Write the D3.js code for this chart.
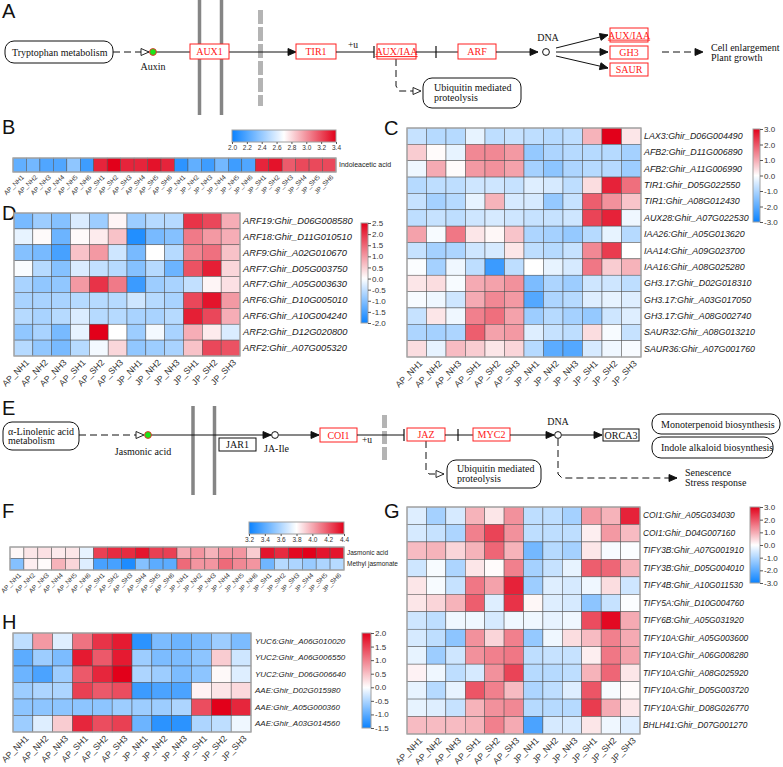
<!DOCTYPE html>
<html><head><meta charset="utf-8">
<script src="https://cdn.jsdelivr.net/npm/d3@7"></script>
<style>body{margin:0;background:#fff}svg{display:block}</style>
</head><body>
<svg id="fig" width="783" height="767"></svg>
<script>
// ---------------- DATA ----------------
const samples24 = ["AP_NH1","AP_NH2","AP_NH3","AP_NH4","AP_NH5","AP_NH6","AP_SH1","AP_SH2","AP_SH3","AP_SH4","AP_SH5","AP_SH6",
                   "JP_NH1","JP_NH2","JP_NH3","JP_NH4","JP_NH5","JP_NH6","JP_SH1","JP_SH2","JP_SH3","JP_SH4","JP_SH5","JP_SH6"];
const samples12 = ["AP_NH1","AP_NH2","AP_NH3","AP_SH1","AP_SH2","AP_SH3","JP_NH1","JP_NH2","JP_NH3","JP_SH1","JP_SH2","JP_SH3"];

// B: Indoleacetic acid
const iaaRows = ["Indoleacetic acid"];
const iaaValues = [[2.25,2.3,2.2,2.2,2.38,2.15, 3.3,3.4,3.3,3.3,3.35,3.3, 2.1,2.25,2.15,2.3,2.15,2.2, 3.3,3.35,3.15,3.2,3.2,3.2]];
const iaaTicks = [2.0,2.2,2.4,2.6,2.8,3.0,3.2,3.4];

// C: auxin signalling genes
const cGenes = ["LAX3:Ghir_D06G004490","AFB2:Ghir_D11G006890","AFB2:Ghir_A11G006990","TIR1:Ghir_D05G022550","TIR1:Ghir_A08G012430",
  "AUX28:Ghir_A07G022530","IAA26:Ghir_A05G013620","IAA14:Ghir_A09G023700","IAA16:Ghir_A08G025280","GH3.17:Ghir_D02G018310",
  "GH3.17:Ghir_A03G017050","GH3.17:Ghir_A08G002740","SAUR32:Ghir_A08G013210","SAUR36:Ghir_A07G001760"];
const cValues = [
  [-0.7,-0.9,-0.9,-0.3,-0.8,-0.7,-0.8,-0.9,-0.8, 0.9, 3.0, 0.3],
  [ 0.6, 0.05,-0.3, 1.4, 1.4, 1.2,-1.3,-1.0,-0.9,-0.9,-0.9,-1.1],
  [-0.2, 1.0, 0.05, 1.2, 1.3, 1.1,-1.1,-1.4,-1.0,-0.9,-0.9,-1.2],
  [-0.9,-0.8,-0.8,-0.6,-0.6,-0.7,-0.4,-0.5,-0.8, 0.4, 2.6, 1.7],
  [-0.7,-1.1,-0.9,-0.3, 0.9,-0.5,-0.5,-1.3,-0.7, 1.9, 1.3, 0.7],
  [-0.8,-0.7,-0.8,-0.6,-0.5,-0.6,-0.7,-0.7,-0.6, 2.2, 2.6,-0.2],
  [ 1.1,-0.1, 1.6, 0.3, 0.1, 0.7,-1.0,-1.1,-1.3,-0.9,-0.3,-0.9],
  [-0.7,-1.1,-1.0,-0.6,-0.5, 0.3,-0.8,-0.9,-0.7, 1.4, 2.3, 0.0],
  [-0.05,-1.1,-0.2,-0.8,-2.4,-0.8, 0.0,-0.3,-0.5, 1.6, 0.6, 0.9],
  [ 0.3, 0.4,-0.1, 1.0, 1.1, 1.3,-1.6,-1.0,-1.2,-0.6,-0.6,-0.8],
  [-0.1,-0.2,-0.6, 1.0, 1.4, 1.2,-2.1,-1.0,-0.9,-0.4,-0.3,-0.4],
  [-0.7, 0.3,-0.2, 1.5, 1.7, 1.1,-1.2,-0.9,-1.1,-1.3,-0.6,-0.4],
  [-1.0,-1.1,-1.0, 1.9, 1.1, 1.2,-0.4,-0.7,-0.8, 0.4,-0.1,-0.7],
  [ 0.4,-0.3, 0.8, 0.6, 0.3, 0.5,-0.9,-2.0,-2.1,-0.5,-0.2,-0.1]];
const cTicks = [-3,-2,-1,0,1,2,3];

// D: ARF genes
const dGenes = ["ARF19:Ghir_D06G008580","ARF18:Ghir_D11G010510","ARF9:Ghir_A02G010670","ARF7:Ghir_D05G003750","ARF7:Ghir_A05G003630",
  "ARF6:Ghir_D10G005010","ARF6:Ghir_A10G004240","ARF2:Ghir_D12G020800","ARF2:Ghir_A07G005320"];
const dValues = [
  [-1.1,-0.8,-1.0,-0.3,-0.8, 0.1,-0.8,-0.6,-0.6, 2.0, 1.8, 0.8],
  [-0.2, 0.05,-1.2, 0.05, 0.2, 0.6,-1.8,-1.1,-1.0, 1.3, 1.0, 0.8],
  [-1.0,-1.1,-1.5, 0.6, 1.0,-0.4,-1.1, 0.0,-0.6, 1.2, 1.4, 0.6],
  [-0.05,-0.6,-1.0,-0.3,-0.5,-0.6,-1.0,-0.6,-1.2, 1.7, 2.2, 0.4],
  [-0.7,-0.9,-0.9, 1.0, 2.0, 1.3,-1.6,-0.8,-0.7,-0.5, 0.1, 0.3],
  [-0.7,-0.7,-0.7,-0.6,-0.6,-0.6,-0.4,-0.6,-0.7, 1.8, 2.3, 1.0],
  [-0.6,-0.7,-0.6,-0.3,-0.6,-0.6,-0.7,-0.7,-0.6, 2.2, 1.8, 0.8],
  [-0.9,-0.7,-1.1,-0.2, 2.5, 0.0,-0.8,-0.1,-0.7, 0.8, 0.2,-0.3],
  [-0.6,-0.9,-1.1,-0.6,-0.1, 0.4,-0.9,-0.8,-0.7, 0.6, 1.8, 1.7]];
const dTicks = [-2,-1.5,-1,-0.5,0,0.5,1,1.5,2,2.5];

// F: jasmonates
const jaRows = ["Jasmonic acid","Methyl jasmonate"];
const jaValues = [
  [3.82,3.86,3.87,3.85,3.86,3.74, 4.25,4.3,4.3,4.35,4.25,4.25, 4.0,4.05,3.98,4.05,4.05,3.92, 4.35,4.3,4.38,4.4,4.35,4.35],
  [3.5,3.84,3.81,3.98,3.9,3.72, 3.35,3.35,3.25,3.5,3.4,3.4, 4.15,4.05,4.05,4.15,4.08,4.05, 3.45,3.62,3.6,3.55,3.6,3.62]];
const jaTicks = [3.2,3.4,3.6,3.8,4.0,4.2,4.4];

// G: JA signalling genes
const gGenes = ["COI1:Ghir_A05G034030","COI1:Ghir_D04G007160","TIFY3B:Ghir_A07G001910","TIFY3B:Ghir_D05G004010","TIFY4B:Ghir_A10G011530",
  "TIFY5A:Ghir_D10G004760","TIFY6B:Ghir_A05G031920","TIFY10A:Ghir_A05G003600","TIFY10A:Ghir_A06G008280","TIFY10A:Ghir_A08G025920",
  "TIFY10A:Ghir_D05G003720","TIFY10A:Ghir_D08G026770","BHLH41:Ghir_D07G001270"];
const gValues = [
  [-0.4,-1.1,-0.5, 0.9, 0.3, 1.3,-0.8,-0.8,-1.1, 1.2, 0.9, 2.6],
  [-0.5,-0.7,-1.0, 1.5, 2.2, 1.3,-0.8,-0.8,-0.8, 0.2, 1.2, 0.8],
  [ 0.8, 0.9, 0.5, 0.9, 1.8, 0.9,-1.7,-0.9,-1.1, 0.3,-0.1,-0.05],
  [-0.6,-0.1,-1.0, 0.3, 0.05, 1.5,-1.1,-0.7,-0.3, 1.9, 1.8, 0.9],
  [ 0.3,-0.1,-0.7, 1.6, 1.1, 2.6,-1.2,-0.4,-0.5,-0.2, 0.4,-0.6],
  [ 0.3, 0.5, 0.9, 1.9,-0.4, 2.4, 0.1,-0.4,-0.5,-1.4,-0.7,-0.05],
  [-0.6,-0.8,-0.2,-0.2,-0.5,-0.2,-0.2,-0.3,-0.2, 2.1, 2.9, 1.0],
  [-0.5,-0.8,-1.4, 1.3, 0.5, 1.5,-1.3,-0.2, 0.4, 0.8, 1.5, 1.0],
  [-0.3,-1.2,-0.6, 1.3, 1.5, 1.6,-0.8,-0.7,-0.7, 0.2, 1.6, 1.1],
  [ 0.15,-0.2,-0.8,-0.5, 1.3, 2.2,-0.9,-0.9,-0.8, 0.9, 1.8, 0.3],
  [-0.3,-0.9,-0.3, 2.0, 1.5, 0.8,-1.0,-0.8,-0.4, 2.0,-0.1, 0.05],
  [-0.3,-0.4,-0.7, 0.9, 1.3, 1.4,-0.9,-0.9,-0.9, 2.3, 1.0, 0.3],
  [ 0.8, 0.8, 0.8, 0.9, 1.5, 1.0,-2.2,-0.5,-0.5, 0.3,-0.2,-0.4]];
const gTicks = [-3,-2,-1,0,1,2,3];

// H: auxin biosynthesis genes
const hGenes = ["YUC6:Ghir_A06G010020","YUC2:Ghir_A06G006550","YUC2:Ghir_D06G006640","AAE:Ghir_D02G015980","AAE:Ghir_A05G000360","AAE:Ghir_A03G014560"];
const hValues = [
  [-0.4, 0.8,-0.2, 1.1, 1.6, 1.8,-1.3,-0.8,-0.9,-0.8,-0.6,-0.8],
  [-1.0,-0.6,-0.8, 1.8, 1.3, 1.8,-0.6,-0.8,-0.8,-0.7, 0.4,-0.3],
  [-0.9,-1.1,-0.6, 1.3, 1.7, 2.0,-0.5,-0.6,-0.8,-0.7, 0.05,-0.2],
  [-0.6,-0.5,-0.5, 1.5, 1.3, 1.4,-1.2,-1.1,-1.1, 0.1, 0.2, 0.3],
  [-0.7,-0.7,-0.7,-0.7,-0.7,-0.6,-0.6,-0.6,-0.5, 1.4, 2.0, 1.7],
  [-0.6,-0.2, 0.4, 1.7, 1.4, 1.5,-0.9,-1.3,-1.3,-0.5,-0.4,-0.1]];
const hTicks = [-1.5,-1,-0.5,0,0.5,1,1.5,2];

// ---------------- DRAWING ----------------
const svg = d3.select("#fig");
svg.append("rect").attr("width",783).attr("height",767).attr("fill","#fff");
const defs = svg.append("defs");
const BLUE = "#0a82ff", RED = "#e2001a";
const SANS = "'Liberation Sans', Arial, sans-serif";
const SERIF = "'Liberation Serif', 'Times New Roman', serif";
let gid = 0;

function colorbar(g, c, dom, cb) {
  const id = "grad" + (gid++);
  const lg = defs.append("linearGradient").attr("id", id);
  if (cb.orient === "v") lg.attr("x1",0).attr("y1",1).attr("x2",0).attr("y2",0);
  else lg.attr("x1",0).attr("y1",0).attr("x2",1).attr("y2",0);
  const lo = dom[0], hi = dom[2];
  d3.range(0, 1.0001, 0.025).forEach(t => lg.append("stop").attr("offset", t).attr("stop-color", c(lo + t*(hi-lo))));
  g.append("rect").attr("x",cb.x).attr("y",cb.y).attr("width",cb.w).attr("height",cb.h)
    .attr("fill",`url(#${id})`).attr("stroke","#a0a0a0").attr("stroke-width",1);
  let ax, ga;
  if (cb.orient === "v") {
    const s = d3.scaleLinear().domain([lo,hi]).range([cb.y+cb.h, cb.y]);
    ax = d3.axisRight(s).tickValues(cb.ticks).tickSize(3).tickPadding(1).tickFormat(d => d.toFixed(1));
    ga = g.append("g").attr("transform",`translate(${cb.x+cb.w},0)`).call(ax);
  } else {
    const s = d3.scaleLinear().domain([lo,hi]).range([cb.x, cb.x+cb.w]);
    ax = d3.axisBottom(s).tickValues(cb.ticks).tickSize(2).tickPadding(1).tickFormat(d => d.toFixed(1));
    ga = g.append("g").attr("transform",`translate(0,${cb.y+cb.h})`).call(ax);
  }
  ga.select(".domain").remove();
  ga.selectAll("line").attr("stroke","#555");
  ga.selectAll("text").attr("font-size", cb.font).attr("font-family", SANS).attr("fill","#333");
}

function heatmap(o) {
  const g = svg.append("g");
  const x = d3.scaleBand().domain(o.cols).range([o.x0, o.x1]);
  const y = d3.scaleBand().domain(o.rows).range([o.y0, o.y1]);
  const c = d3.scaleLinear().domain(o.domain).range([BLUE, "#ffffff", RED]).clamp(true);
  const cells = o.values.flatMap((row,i) => row.map((v,j) => ({r:o.rows[i], c:o.cols[j], v})));
  g.selectAll("rect.cell").data(cells).join("rect").attr("class","cell")
    .attr("x", d => x(d.c)).attr("y", d => y(d.r))
    .attr("width", x.bandwidth()).attr("height", y.bandwidth())
    .attr("fill", d => c(d.v)).attr("stroke","#505050").attr("stroke-width",0.5);
  g.append("rect").attr("x",o.x0).attr("y",o.y0).attr("width",o.x1-o.x0).attr("height",o.y1-o.y0)
    .attr("fill","none").attr("stroke","#a8a8a8").attr("stroke-width",1.3);
  const ya = d3.axisRight(y).tickSize(0).tickPadding(o.rowPad);
  const gy = g.append("g").attr("transform",`translate(${o.x1},0)`).call(ya);
  gy.select(".domain").remove();
  gy.selectAll("text").attr("font-size", o.rowFont).attr("font-family", SANS)
    .attr("font-style", o.italic ? "italic" : "normal").attr("fill","#222");
  const xa = d3.axisBottom(x).tickSize(0);
  const gx = g.append("g").attr("transform",`translate(0,${o.y1})`).call(xa);
  gx.select(".domain").remove();
  gx.selectAll("text").attr("font-size", o.xFont).attr("font-family", SANS).attr("fill","#333")
    .attr("x",0).attr("y",0).attr("dy","0.35em").attr("text-anchor","end")
    .attr("transform", `translate(${o.xdx},${o.xdy}) rotate(-45)`);
  if (o.cb) colorbar(g, c, o.domain, o.cb);
}

// Panel letters
[["A",2,18],["B",2,134],["C",384,135],["D",2,220],["E",2,415],["F",2,518],["G",384,518],["H",2,629]].forEach(([t,x,y]) =>
  svg.append("text").attr("x",x).attr("y",y).attr("font-family",SANS).attr("font-size",20).attr("fill","#111").text(t));

// Heatmaps
heatmap({rows:iaaRows, cols:samples24, values:iaaValues, x0:13, x1:336, y0:158, y1:172, domain:[2.0,2.7,3.4],
  rowFont:7, italic:false, rowPad:3, xFont:6.5, xdx:3, xdy:4,
  cb:{orient:"h", x:232, y:130, w:104, h:12, ticks:iaaTicks, font:6.5}});
heatmap({rows:cGenes, cols:samples12, values:cValues, x0:407, x1:641, y0:128, y1:357, domain:[-3,0,3],
  rowFont:8.9, italic:true, rowPad:3, xFont:8.7, xdx:4, xdy:5,
  cb:{orient:"v", x:753, y:129, w:7, h:93, ticks:cTicks, font:8}});
heatmap({rows:dGenes, cols:samples12, values:dValues, x0:14, x1:240, y0:213, y1:356, domain:[-2,0,2.5],
  rowFont:9.3, italic:true, rowPad:3, xFont:8.7, xdx:4, xdy:5,
  cb:{orient:"v", x:361, y:223, w:7, h:100, ticks:dTicks, font:8}});
heatmap({rows:jaRows, cols:samples24, values:jaValues, x0:10, x1:344, y0:547, y1:570, domain:[3.2,3.8,4.4],
  rowFont:6.5, italic:false, rowPad:3, xFont:6.5, xdx:3, xdy:4,
  cb:{orient:"h", x:249, y:522, w:95, h:12, ticks:jaTicks, font:6.5}});
heatmap({rows:gGenes, cols:samples12, values:gValues, x0:407, x1:640, y0:507, y1:734, domain:[-3,0,3],
  rowFont:8.4, italic:true, rowPad:3, xFont:8.7, xdx:4, xdy:5,
  cb:{orient:"v", x:750, y:507, w:10, h:76, ticks:gTicks, font:8}});
heatmap({rows:hGenes, cols:samples12, values:hValues, x0:13, x1:251, y0:633, y1:732, domain:[-1.5,0,2],
  rowFont:8, italic:true, rowPad:4, xFont:8.7, xdx:4, xdy:5,
  cb:{orient:"v", x:362, y:633, w:9, h:95, ticks:hTicks, font:8}});

// ---------------- PATHWAYS ----------------
const P = svg.append("g");
function txt(x, y, s, o={}) {
  return P.append("text").attr("x",x).attr("y",y).attr("font-family",SERIF).attr("font-size",o.size||10)
    .attr("text-anchor",o.anchor||"start").attr("fill",o.color||"#111")
    .attr("text-decoration", o.under ? "underline" : null).text(s);
}
function link(pts, o={}) {
  P.append("path").attr("d", d3.line()(pts)).attr("fill","none").attr("stroke","#111").attr("stroke-width",1)
    .attr("stroke-dasharray", o.dash ? "7,4" : null);
  const [xa,ya] = pts[pts.length-2], [xb,yb] = pts[pts.length-1];
  const ang = Math.atan2(yb-ya, xb-xa) * 180 / Math.PI;
  if (o.head === "filled" || o.head === "open")
    P.append("path").attr("d","M0,0 L-8,-3.5 L-8,3.5 Z").attr("transform",`translate(${xb},${yb}) rotate(${ang})`)
      .attr("fill", o.head === "filled" ? "#111" : "#fff").attr("stroke","#111").attr("stroke-width",0.9);
  if (o.head === "bar")
    P.append("line").attr("x1",xb).attr("x2",xb).attr("y1",yb-6).attr("y2",yb+6).attr("stroke","#111").attr("stroke-width",1.2);
}
function gene(x, y, w, h, s, color, under) {
  P.append("rect").attr("x",x).attr("y",y).attr("width",w).attr("height",h).attr("fill","#fff")
    .attr("stroke",color).attr("stroke-width",1);
  txt(x+w/2, y+h/2+3.6, s, {anchor:"middle", color, under});
}
function rbox(x, y, w, h, lines, tx, ty) {
  P.append("rect").attr("x",x).attr("y",y).attr("width",w).attr("height",h).attr("rx",9).attr("ry",9)
    .attr("fill","#fff").attr("stroke","#111").attr("stroke-width",1);
  lines.forEach((s,i) => txt(tx, ty + i*9.5, s));
}
function gbar(x, y1, y2, w, color, dash) {
  P.append("line").attr("x1",x).attr("x2",x).attr("y1",y1).attr("y2",y2).attr("stroke",color)
    .attr("stroke-width",w).attr("stroke-dasharray",dash||null);
}
function compound(x, y) {
  P.append("circle").attr("cx",x).attr("cy",y).attr("r",3.4).attr("fill","#19e619").attr("stroke","#e83030").attr("stroke-width",1);
}
function dna(x, y) {
  P.append("circle").attr("cx",x).attr("cy",y).attr("r",3.4).attr("fill","#fff").attr("stroke","#111").attr("stroke-width",1);
}

const RG = "#ff2020";
// ---- Panel A ----
gbar(199.5, 0, 115, 3.5, "#858585");
gbar(221.5, 0, 115, 3.5, "#858585");
gbar(260.5, 10, 106, 5, "#b4b4b4", "14,3");
rbox(5, 41, 108, 22, ["Tryptophan metabolism"], 12, 55.5);
link([[113,52],[149,52]], {dash:true, head:"open"});
link([[156,52],[190,52]]);
compound(153, 52);
txt(153, 70, "Auxin", {anchor:"middle"});
link([[229,52],[296,52]], {head:"filled"});
gene(190, 44, 39, 15, "AUX1", RG);
gene(296, 44, 40, 15, "TIR1", RG);
link([[336,52],[374,52]], {head:"bar"});
txt(348, 47.5, "+u", {size:9.5});
link([[396,59],[396,86],[399,91],[421,91]], {dash:true, head:"open"});
gene(377, 44, 39, 15, "AUX/IAA", RG, true);
link([[416,52],[436,52]], {head:"bar"});
link([[436,52],[458,52]]);
gene(458, 44, 38, 15, "ARF", RG);
link([[496,52],[538,52]], {head:"filled"});
dna(546, 52);
txt(548, 41, "DNA", {anchor:"middle"});
link([[556,48],[608,35]], {head:"filled"});
link([[556,52],[608,52]], {head:"filled"});
link([[556,56],[608,68]], {head:"filled"});
gene(610, 28, 38, 14, "AUX/IAA", RG, true);
gene(610, 46, 38, 13, "GH3", RG);
gene(610, 63, 38, 13, "SAUR", RG);
link([[662,52],[703,52]], {dash:true, head:"filled"});
txt(711, 51, "Cell enlargement");
txt(711, 60.5, "Plant growth");
rbox(423, 78, 98, 30, ["Ubiquitin mediated","proteolysis"], 434, 91);

// ---- Panel E ----
gbar(193, 406, 495, 3.5, "#858585");
gbar(214.5, 406, 495, 3.5, "#858585");
gbar(384.5, 415, 460, 5, "#b4b4b4", "13,3");
rbox(3, 422, 76, 28, ["\u03b1-Linolenic acid","metabolism"], 8, 434.5);
link([[79,435],[144,435]], {dash:true, head:"open"});
link([[151,435],[271,435]], {head:"filled"});
compound(148, 435);
txt(143, 455, "Jasmonic acid", {anchor:"middle"});
dna(275, 435);
gene(219, 438, 37, 13, "JAR1", "#111");
txt(264, 452, "JA-Ile");
link([[279,435],[319,435]], {head:"filled"});
gene(320, 428, 37, 14, "COI1", RG);
txt(362, 443, "+u", {size:9.5});
link([[357,435],[404,435]], {head:"bar"});
link([[426,441],[426,470],[429,474],[444,474]], {dash:true, head:"open"});
gene(407, 428, 38, 13, "JAZ", RG);
link([[445,435],[458,435]], {head:"bar"});
link([[458,435],[473,435]]);
gene(473, 428, 37, 13, "MYC2", RG);
link([[510,435],[554,435]], {head:"filled"});
dna(558, 435);
txt(558, 425, "DNA", {anchor:"middle"});
link([[562,435],[602,435]], {head:"filled"});
gene(603, 429, 36, 12, "ORCA3", "#111");
link([[558,439],[558,474],[562,478],[677,478]], {dash:true, head:"filled"});
txt(685, 476, "Senescence");
txt(685, 485.5, "Stress response");
rbox(447, 460, 94, 28, ["Ubiquitin mediated","proteolysis"], 457, 472);
rbox(652, 414, 128, 20, ["Monoterpenoid biosynthesis"], 661, 427.5);
rbox(652, 437, 121, 21, ["Indole alkaloid biosynthesis"], 661, 451);
</script>
</body></html>
